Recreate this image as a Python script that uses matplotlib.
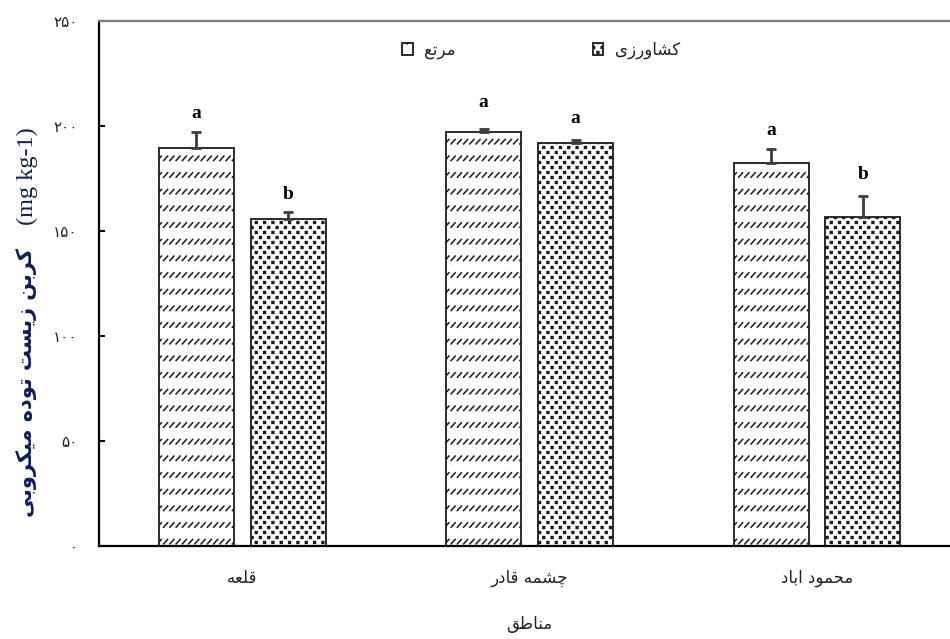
import numpy as np
import matplotlib
matplotlib.use("Agg")
import matplotlib.pyplot as plt
import matplotlib.hatch as mhatch
from matplotlib.path import Path

# ---------------------------------------------------------------- data
regions = ["قلعه", "چشمه قادر", "محمود اباد"]
series_names = ["مرتع", "کشاورزی"]
rangeland = [189.2, 197.1, 182.4]
rangeland_err = [7.9, 1.1, 6.4]
farmland = [155.4, 191.9, 156.7]
farmland_err = [3.6, 1.3, 10.0]
rangeland_letters = ["a", "a", "a"]
farmland_letters = ["b", "a", "b"]
y_ticks = [0, 50, 100, 150, 200, 250]
x_title = "مناطق"
y_title_fa = "کربن زیست توده میکروبی"
y_title_unit = "(mg kg-1)"

# ------------------------------------------------ Persian text shaping
# matplotlib has no complex text layout, so letters are mapped to their
# contextual presentation forms (isolated, final, initial, medial) and
# the run is reversed into visual (right-to-left) order.
FORMS = {
    "ا": ("\uFE8D", "\uFE8E"),
    "ب": ("\uFE8F", "\uFE90", "\uFE91", "\uFE92"),
    "ت": ("\uFE95", "\uFE96", "\uFE97", "\uFE98"),
    "ح": ("\uFEA1", "\uFEA2", "\uFEA3", "\uFEA4"),
    "د": ("\uFEA9", "\uFEAA"),
    "ر": ("\uFEAD", "\uFEAE"),
    "ز": ("\uFEAF", "\uFEB0"),
    "س": ("\uFEB1", "\uFEB2", "\uFEB3", "\uFEB4"),
    "ش": ("\uFEB5", "\uFEB6", "\uFEB7", "\uFEB8"),
    "ط": ("\uFEC1", "\uFEC2", "\uFEC3", "\uFEC4"),
    "ع": ("\uFEC9", "\uFECA", "\uFECB", "\uFECC"),
    "ق": ("\uFED5", "\uFED6", "\uFED7", "\uFED8"),
    "ل": ("\uFEDD", "\uFEDE", "\uFEDF", "\uFEE0"),
    "م": ("\uFEE1", "\uFEE2", "\uFEE3", "\uFEE4"),
    "ن": ("\uFEE5", "\uFEE6", "\uFEE7", "\uFEE8"),
    "ه": ("\uFEE9", "\uFEEA", "\uFEEB", "\uFEEC"),
    "و": ("\uFEED", "\uFEEE"),
    "چ": ("\uFB7A", "\uFB7B", "\uFB7C", "\uFB7D"),
    "ک": ("\uFB8E", "\uFB8F", "\uFB90", "\uFB91"),
    "ی": ("\uFBFC", "\uFBFD", "\uFBFE", "\uFBFF"),
}
DUAL = {ch for ch, f in FORMS.items() if len(f) == 4}


def fa(text):
    out = []
    for i, ch in enumerate(text):
        forms = FORMS.get(ch)
        if forms is None:
            out.append(ch)
            continue
        prev = text[i - 1] if i > 0 else ""
        nxt = text[i + 1] if i + 1 < len(text) else ""
        join_prev = prev in DUAL
        join_next = ch in DUAL and nxt in FORMS
        if join_prev and join_next:
            out.append(forms[3])
        elif join_prev:
            out.append(forms[1])
        elif join_next:
            out.append(forms[2])
        else:
            out.append(forms[0])
    return "".join(reversed(out))


FA_DIGITS = str.maketrans("0123456789", "۰۱۲۳۴۵۶۷۸۹")


# ------------------------------------------------------ fill patterns
class SlashRows(mhatch.HatchPatternBase):
    """Rows of short '/' strokes ('/' in a hatch string)."""
    rows, per_row, size = 6, 16, 0.045

    def __init__(self, hatch, density):
        self.n = hatch.count("/")
        self.num_vertices = 2 * self.rows * self.per_row if self.n else 0

    def set_vertices_and_codes(self, vertices, codes):
        ys = (np.arange(self.rows) + 0.5) / self.rows
        xs = (np.arange(self.per_row) + 0.5) / self.per_row
        gx, gy = np.meshgrid(xs, ys)
        gx, gy = gx.ravel(), gy.ravel()
        h = self.size / 2
        vertices[0::2, 0] = gx - h * 0.9
        vertices[0::2, 1] = gy - h
        vertices[1::2, 0] = gx + h * 0.9
        vertices[1::2, 1] = gy + h
        codes[0::2] = Path.MOVETO
        codes[1::2] = Path.LINETO


class SquareDots(mhatch.HatchPatternBase):
    """Staggered grid of small filled squares ('.' in a hatch string)."""
    rows, per_row, size = 20, 12, 0.018

    def __init__(self, hatch, density):
        self.n = hatch.count(".")
        self.num_vertices = 5 * self.rows * self.per_row if self.n else 0

    def set_vertices_and_codes(self, vertices, codes):
        sq = np.array([[-1, -1], [1, -1], [1, 1], [-1, 1], [-1, -1]]) * self.size / 2
        sq_codes = [Path.MOVETO, Path.LINETO, Path.LINETO, Path.LINETO, Path.CLOSEPOLY]
        k = 0
        for r in range(self.rows):
            y = (r + 0.5) / self.rows
            shift = 0.5 * (r % 2)
            for c in range(self.per_row):
                xx = (c + 0.25 + shift) / self.per_row
                vertices[k:k + 5] = sq + [xx, y]
                codes[k:k + 5] = sq_codes
                k += 5


mhatch._hatch_types[:] = [SlashRows, SquareDots]

# ------------------------------------------------------------- figure
plt.rcParams["hatch.linewidth"] = 1.1
plt.rcParams["hatch.color"] = "black"

W, H = 950, 639
fig = plt.figure(figsize=(W / 100, H / 100), dpi=100)
ax = fig.add_axes([98.6 / W, 93.3 / H, 862.1 / W, 525 / H])

x = np.arange(len(regions))
bw = 0.261
off = 0.16

b1 = ax.bar(x - off, rangeland, bw, color="white", edgecolor="#1a1a1a",
            linewidth=1.3, hatch="/", label=fa(series_names[0]), zorder=2)
b2 = ax.bar(x + off, farmland, bw, color="white", edgecolor="#1a1a1a",
            linewidth=1.3, hatch=".", label=fa(series_names[1]), zorder=2)

err_kw = dict(fmt="none", ecolor="#3c3c3c", elinewidth=2.0, capsize=3.6,
              capthick=2.0, zorder=3)
ax.errorbar(x - off, rangeland, yerr=[np.zeros(3), rangeland_err], **err_kw)
ax.errorbar(x + off, farmland, yerr=[np.zeros(3), farmland_err], **err_kw)

# significance letters above the error bars
gaps_r = [7, 13, 7]
gaps_f = [6, 9, 9]
letter_kw = dict(textcoords="offset points", ha="center", va="bottom", fontsize=14,
                 fontweight="bold", family="Liberation Serif", color="black")
for xi, v, e, lt, g in zip(x - off, rangeland, rangeland_err, rangeland_letters, gaps_r):
    ax.annotate(lt, (xi, v + e), xytext=(0, g), **letter_kw)
for xi, v, e, lt, g in zip(x + off, farmland, farmland_err, farmland_letters, gaps_f):
    ax.annotate(lt, (xi, v + e), xytext=(0, g), **letter_kw)

ax.set_xlim(-0.5, 2.5)
ax.set_ylim(0, 250)
ax.set_yticks(y_ticks)
ax.set_yticklabels([str(t).translate(FA_DIGITS) for t in y_ticks],
                   family="DejaVu Sans", fontsize=11, color="#222222")
ax.tick_params(axis="y", direction="in", length=4, width=1.5, pad=15, colors="black",
               labelcolor="#222222")
ax.set_xticks(x)
ax.set_xticklabels([fa(r) for r in regions], family="DejaVu Sans", fontsize=12,
                   color="#222222")
ax.tick_params(axis="x", length=0, pad=17)
ax.set_xlabel(fa(x_title), family="DejaVu Sans", fontsize=12, color="#222222",
              labelpad=20)

for side in ("left", "bottom"):
    ax.spines[side].set_linewidth(1.6)
    ax.spines[side].set_color("black")
ax.spines["top"].set_linewidth(1.6)
ax.spines["top"].set_color("#7a7a7a")
ax.spines["right"].set_visible(False)

# y-axis title: Persian part in bold, unit in serif
fig.text(27 / W, 1 - 382 / H, fa(y_title_fa), rotation=90, ha="center", va="center",
         family="DejaVu Sans", fontweight="bold", fontsize=15, color="#0d1f5c")
fig.text(27 / W, 1 - 176 / H, y_title_unit, rotation=90, ha="center", va="center",
         family="Liberation Serif", fontsize=17.5, color="#0d1f5c")

leg = ax.legend(handles=[b1, b2], loc="center", ncol=2, frameon=False,
                bbox_to_anchor=(541 / W, 1 - 50 / H), bbox_transform=fig.transFigure,
                prop={"family": "DejaVu Sans", "size": 12}, handlelength=0.65,
                handleheight=0.65, handletextpad=0.7, columnspacing=8.2,
                borderpad=0, borderaxespad=0)
for t in leg.get_texts():
    t.set_color("#222222")

fig.savefig("out.png", dpi=100, facecolor="white")
